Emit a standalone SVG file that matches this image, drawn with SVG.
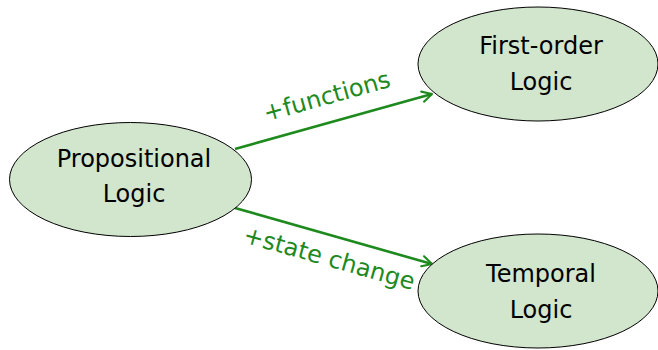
<svg xmlns="http://www.w3.org/2000/svg" width="658" height="350" viewBox="0 0 658 350">
<style>
.node ellipse{fill:#d2e5cd;stroke:#000;stroke-width:1}
.node text{font-family:"DejaVu Sans","Liberation Sans",sans-serif;font-size:24px;fill:#000;text-anchor:middle}
.edge{stroke:#1e8a1e;stroke-width:2.6;fill:none}
.lbl{font-family:"DejaVu Sans","Liberation Sans",sans-serif;font-size:24px;fill:#1e8a1e;text-anchor:middle}
</style>
<defs>
<marker id="arr" viewBox="0 0 10 10" refX="8.5" refY="5" markerWidth="5" markerHeight="5" orient="auto" markerUnits="strokeWidth">
<path d="M1,1 L8.5,5 L1,9" fill="none" stroke="#1e8a1e" stroke-width="1.6" stroke-linecap="round" stroke-linejoin="round"/>
</marker>
</defs>
<rect width="658" height="350" fill="#fff"/>
<g id="connectors">
<line class="edge" x1="235" y1="149" x2="432" y2="94" marker-end="url(#arr)"/>
<text class="lbl" transform="translate(329,104) rotate(-15.6)">+functions</text>
<line class="edge" x1="235" y1="208" x2="432" y2="264" marker-end="url(#arr)"/>
<text class="lbl" transform="translate(327,266) rotate(15.8)">+state change</text>
</g>
<g id="propositional" class="node">
<ellipse cx="130.5" cy="179.5" rx="121" ry="57"/>
<text x="134" y="167">Propositional</text>
<text x="134" y="202">Logic</text>
</g>
<g id="firstorder" class="node">
<ellipse cx="538" cy="64" rx="120" ry="57"/>
<text x="541" y="54">First-order</text>
<text x="541" y="90">Logic</text>
</g>
<g id="temporal" class="node">
<ellipse cx="538" cy="291" rx="120" ry="57"/>
<text x="541" y="282">Temporal</text>
<text x="541" y="318">Logic</text>
</g>
</svg>
